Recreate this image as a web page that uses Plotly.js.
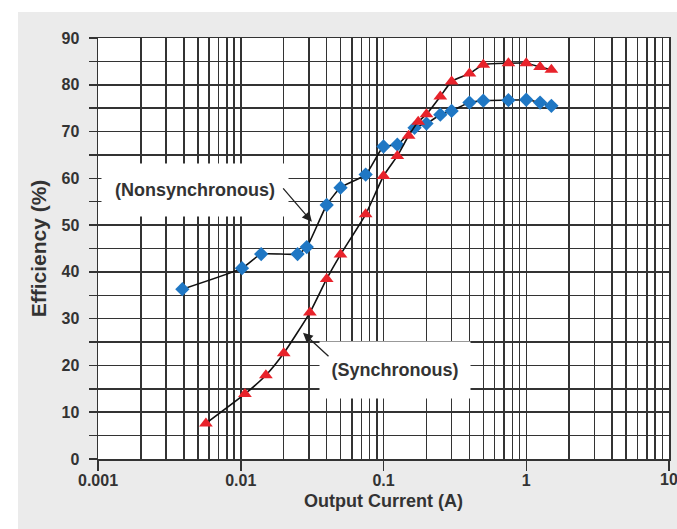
<!DOCTYPE html>
<html>
<head>
<meta charset="utf-8">
<script src="https://cdn.plot.ly/plotly-3.0.1.min.js"></script>
<style>
  html, body { margin: 0; padding: 0; background: #ffffff; }
  #chart { position: absolute; left: 18px; top: 12px; width: 659px; height: 517px; }
</style>
</head>
<body>
<div id="chart"></div>
<script>
// Nonsynchronous (blue diamonds)
const nonsyncCurrent = [0.0039, 0.0102, 0.0139, 0.025, 0.029, 0.04, 0.05, 0.075, 0.1, 0.125, 0.165, 0.2, 0.25, 0.3, 0.4, 0.5, 0.75, 1.0, 1.25, 1.5];
const nonsyncEff     = [36.3, 40.8, 43.8, 43.8, 45.3, 54.3, 58.0, 60.8, 66.8, 67.2, 70.8, 71.7, 73.6, 74.4, 76.2, 76.6, 76.7, 76.8, 76.2, 75.5];

// Synchronous (red triangles)
const syncCurrent = [0.0057, 0.0107, 0.015, 0.02, 0.0305, 0.04, 0.05, 0.075, 0.1, 0.125, 0.15, 0.175, 0.2, 0.25, 0.3, 0.4, 0.5, 0.75, 1.0, 1.25, 1.5];
const syncEff     = [7.6, 13.9, 17.9, 22.6, 31.3, 38.5, 43.7, 52.3, 60.5, 64.8, 69.1, 72.1, 73.7, 77.5, 80.7, 82.4, 84.3, 84.6, 84.6, 83.8, 83.2];

// Axis ticks
const xMajorTicks = [0.001, 0.01, 0.1, 1, 10];
const xMajorLabels = ['0.001', '0.01', '0.1', '1', '10'];
const yMajorTicks = [0, 10, 20, 30, 40, 50, 60, 70, 80, 90];
const yMinorTicks = [5, 15, 25, 35, 45, 55, 65, 75, 85];

const xMinorTicks = [];
[0.001, 0.01, 0.1, 1].forEach(d => { for (let k = 2; k <= 9; k++) xMinorTicks.push(+(d * k).toPrecision(3)); });

const FONT = 'Liberation Sans, Arial, sans-serif';
const GRID = '#333333';
const TXT = '#333333';

const traces = [
  {
    x: nonsyncCurrent, y: nonsyncEff, type: 'scatter', mode: 'lines+markers',
    line: { color: '#111111', width: 1.6, shape: 'spline', smoothing: 0.5 },
    marker: { symbol: 'diamond', size: 11, color: '#1f77c4' },
    name: 'Nonsynchronous', hoverinfo: 'skip'
  },
  {
    x: syncCurrent, y: syncEff, type: 'scatter', mode: 'lines+markers',
    line: { color: '#111111', width: 1.6, shape: 'spline', smoothing: 0.5 },
    marker: { symbol: 'triangle-up', size: 12, color: '#e8232b' },
    name: 'Synchronous', hoverinfo: 'skip'
  }
];

const layout = {
  width: 659, height: 517,
  margin: { l: 80, r: 8, t: 26, b: 70 },
  paper_bgcolor: '#ebebeb',
  plot_bgcolor: '#ffffff',
  showlegend: false,
  font: { family: FONT, color: TXT },
  xaxis: {
    type: 'log', range: [-3, 1],
    tickmode: 'array', tickvals: xMajorTicks, ticktext: xMajorLabels,
    ticks: 'outside', ticklen: 10, tickwidth: 1.5, tickcolor: GRID,
    ticklabelstandoff: -4,
    showgrid: true, gridcolor: GRID, gridwidth: 1.5,
    minor: { tickmode: 'array', tickvals: xMinorTicks, showgrid: true, gridcolor: GRID, gridwidth: 1.5, ticks: '' },
    showline: true, linecolor: GRID, linewidth: 1.5, mirror: true,
    zeroline: false,
    tickfont: { size: 16, family: FONT, color: TXT, weight: 'bold' },
    title: { text: '<b>Output Current (A)</b>', font: { size: 18, family: FONT, color: TXT }, standoff: 6 }
  },
  yaxis: {
    range: [0, 90],
    tickmode: 'array', tickvals: yMajorTicks,
    ticks: 'outside', ticklen: 8, tickwidth: 1.5, tickcolor: GRID,
    ticklabelstandoff: 6,
    showgrid: true, gridcolor: GRID, gridwidth: 1.5,
    minor: { tickmode: 'array', tickvals: yMinorTicks, showgrid: true, gridcolor: GRID, gridwidth: 1.5, ticks: 'outside', ticklen: 8, tickcolor: GRID, tickwidth: 1.5 },
    showline: true, linecolor: GRID, linewidth: 1.5, mirror: true,
    zeroline: false,
    tickfont: { size: 16, family: FONT, color: TXT, weight: 'bold' },
    title: { text: '<b>Efficiency (%)</b>', font: { size: 21, family: FONT, color: TXT }, standoff: 9 }
  },
  annotations: [
    {
      xref: 'x', yref: 'y', x: Math.log10(0.004778), y: 57.5,
      text: '<b>(Nonsynchronous)</b>', showarrow: false,
      font: { size: 18, family: FONT, color: TXT },
      bgcolor: '#ffffff', width: 184, height: 50
    },
    {
      xref: 'x', yref: 'y', x: Math.log10(0.1204), y: 19.0,
      text: '<b>(Synchronous)</b>', showarrow: false,
      font: { size: 18, family: FONT, color: TXT },
      bgcolor: '#ffffff', width: 148, height: 54
    },
    {
      xref: 'x', yref: 'y', x: Math.log10(0.0315), y: 50.7,
      text: '', showarrow: true, ax: -30, ay: -35,
      arrowhead: 2, arrowsize: 1.5, arrowwidth: 1.3, arrowcolor: '#222222'
    },
    {
      xref: 'x', yref: 'y', x: Math.log10(0.0273), y: 27.0,
      text: '', showarrow: true, ax: 27, ay: 25,
      arrowhead: 2, arrowsize: 1.5, arrowwidth: 1.3, arrowcolor: '#222222'
    },
    {
      // the right-most decade label, which sits half outside the figure edge
      xref: 'x', yref: 'paper', x: Math.log10(xMajorTicks[4]), y: 0, yshift: -10,
      xanchor: 'center', yanchor: 'top',
      text: '<b>' + xMajorLabels[4] + '</b>', showarrow: false,
      font: { size: 16, family: FONT, color: TXT }
    }
  ]
};

Plotly.newPlot('chart', traces, layout, { displayModeBar: false, staticPlot: true });
</script>
</body>
</html>
